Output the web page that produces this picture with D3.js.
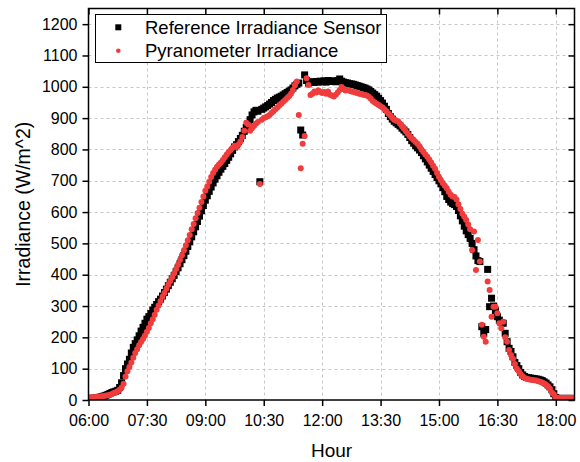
<!DOCTYPE html>
<html>
<head>
<meta charset="utf-8">
<script src="https://cdn.jsdelivr.net/npm/d3@7/dist/d3.min.js"></script>
<style>
  html, body { margin: 0; padding: 0; background: #fff; }
  svg { display: block; }
  text { font-family: "Liberation Sans", Arial, Helvetica, sans-serif; fill: #000; }
</style>
</head>
<body>
<svg id="chart" width="580" height="462"></svg>
<script>
// ---------- DATA ----------
// Sampling grid: one reading every 3 minutes starting at 06:00
const startHour = 6;
const stepMinutes = 3;

// Reference Irradiance Sensor (W/m^2), rows = one hour (20 readings each)
const reference = [
  // 06:00
  5,5,5,6,7,8,9,11,13,15,18,21,24,26,28,31,40,55,78,100,
  // 07:00
  115,130,150,168,180,192,205,220,232,245,258,266,276,287,296,305,314,322,332,343,
  // 08:00
  354,365,376,387,398,410,422,435,448,461,475,490,505,521,537,553,570,587,604,621,
  // 09:00
  638,652,666,680,693,705,716,727,737,746,755,765,775,786,797,808,815,825,835,845,
  // 10:00
  858,870,882,895,910,920,925,922,697,928,932,936,940,945,950,956,960,964,967,970,
  // 11:00
  974,978,982,986,990,996,1003,1008,1012,862,846,1038,1020,1012,1015,1016,1014,1017,1015,1018,
  // 12:00
  1016,1019,1015,1020,1018,1017,1019,1016,1020,1025,1018,1015,1013,1012,1010,1009,1008,1006,1004,1002,
  // 13:00
  1000,998,996,993,990,985,980,975,970,963,956,948,938,928,915,905,897,890,885,880,
  // 14:00
  875,868,862,856,848,838,828,820,812,805,798,790,780,770,760,750,740,730,720,710,
  // 15:00
  700,690,678,665,650,640,632,627,624,618,605,588,572,555,540,528,516,500,480,460,
  // 16:00
  445,442,234,213,225,417,298,325,300,285,266,255,247,245,213,186,165,155,138,120,
  // 17:00
  110,100,88,80,75,72,71,70,69,68,67,66,64,62,58,54,48,42,33,20,
  // 18:00
  8,5,5,5,5,5,5,5,5,5
];

// Pyranometer Irradiance (W/m^2)
const pyranometer = [
  // 06:00
  8,8,9,9,10,10,11,12,13,14,15,17,19,22,25,28,33,40,52,75,
  // 07:00
  92,105,120,135,150,162,175,185,195,205,218,230,245,258,272,288,302,316,330,342,
  // 08:00
  355,368,380,392,405,418,432,447,462,478,494,510,527,545,562,580,597,614,632,650,
  // 09:00
  668,682,697,712,725,735,745,752,758,766,775,784,792,798,805,812,808,815,825,840,
  // 10:00
  860,885,880,860,868,875,882,888,690,895,900,903,906,910,916,922,928,934,940,946,
  // 11:00
  952,958,964,970,978,990,1005,1017,910,740,818,843,1027,1006,974,978,985,982,988,984,
  // 12:00
  980,983,978,985,975,972,969,975,982,990,999,992,988,990,987,985,984,982,980,978,
  // 13:00
  977,975,974,972,968,962,955,950,946,942,938,934,928,922,915,908,900,895,892,890,
  // 14:00
  882,874,866,858,850,842,836,830,824,818,810,800,792,784,777,768,758,748,738,725,
  // 15:00
  712,702,692,684,676,665,655,650,648,640,625,610,595,585,575,560,545,479,538,415,
  // 16:00
  511,442,240,202,186,378,351,266,298,298,277,245,229,250,200,186,160,144,132,115,
  // 17:00
  100,92,82,75,70,68,66,65,64,63,62,60,58,56,53,49,44,37,24,18,
  // 18:00
  8,7,7,7,7,7,7,7,7,7
];

const xTickHours = [6, 7.5, 9, 10.5, 12, 13.5, 15, 16.5, 18];
const yTickValues = [0,100,200,300,400,500,600,700,800,900,1000,1100,1200];
const seriesNames = ["Reference Irradiance Sensor", "Pyranometer Irradiance"];
const xTitle = "Hour";
const yTitle = "Irradiance (W/m^2)";

// ---------- LAYOUT ----------
const m = { left: 88.5, right: 574.5, top: 8.5, bottom: 400 };
const xDomain = [6, 18.48];
const yDomain = [0, 1250];

const svg = d3.select("#chart");
const x = d3.scaleLinear().domain(xDomain).range([m.left, m.right]);
const y = d3.scaleLinear().domain(yDomain).range([m.bottom, m.top]);

const hourOf = i => startHour + i * stepMinutes / 60;
const refData = reference.map((v, i) => ({ h: hourOf(i), v }));
const pyrData = pyranometer.map((v, i) => ({ h: hourOf(i), v }));

const fmtHour = h => {
  const hh = Math.floor(h), mm = Math.round((h - hh) * 60);
  return String(hh).padStart(2, "0") + ":" + String(mm).padStart(2, "0");
};

// Gridlines
const grid = svg.append("g").attr("stroke", "#c8c8c8").attr("stroke-width", 1)
  .attr("stroke-dasharray", "3,3").attr("fill", "none");
grid.selectAll("line.gx").data(xTickHours.filter(h => h > xDomain[0])).enter().append("line")
  .attr("x1", d => Math.round(x(d)) + 0.5).attr("x2", d => Math.round(x(d)) + 0.5)
  .attr("y1", m.top).attr("y2", m.bottom);
grid.selectAll("line.gy").data(yTickValues.filter(v => v > 0)).enter().append("line")
  .attr("y1", d => Math.round(y(d)) + 0.5).attr("y2", d => Math.round(y(d)) + 0.5)
  .attr("x1", m.left).attr("x2", m.right);

// Data: clip to plot area
svg.append("clipPath").attr("id", "clip").append("rect")
  .attr("x", m.left).attr("y", m.top).attr("width", m.right - m.left).attr("height", m.bottom - m.top);

const plot = svg.append("g").attr("clip-path", "url(#clip)");
const sq = 7;
plot.append("g").selectAll("rect").data(refData).enter().append("rect")
  .attr("x", d => x(d.h) - sq / 2).attr("y", d => y(d.v) - sq / 2)
  .attr("width", sq).attr("height", sq).attr("fill", "#000");
plot.append("g").selectAll("circle").data(pyrData).enter().append("circle")
  .attr("cx", d => x(d.h)).attr("cy", d => y(d.v)).attr("r", 3)
  .attr("fill", "#f03c3c");

// Axes
const fontSize = 16;
const gB = svg.append("g").attr("transform", `translate(0,${m.bottom})`)
  .call(d3.axisBottom(x).tickValues(xTickHours).tickFormat(fmtHour).tickSize(6).tickPadding(9));
const gL = svg.append("g").attr("transform", `translate(${m.left},0)`)
  .call(d3.axisLeft(y).tickValues(yTickValues).tickFormat(d3.format("d")).tickSize(6).tickPadding(5));
const gT = svg.append("g").attr("transform", `translate(0,${m.top})`)
  .call(d3.axisBottom(x).tickValues(xTickHours).tickFormat("").tickSize(6));
const gR = svg.append("g").attr("transform", `translate(${m.right},0)`)
  .call(d3.axisLeft(y).tickValues(yTickValues).tickFormat("").tickSize(6));
[gB, gL, gT, gR].forEach(g => {
  g.select(".domain").remove();
  g.selectAll(".tick line").attr("stroke", "#000").attr("stroke-width", 1.5);
  g.selectAll(".tick text").attr("font-size", fontSize)
    .attr("font-family", '"Liberation Sans", Arial, sans-serif').attr("fill", "#000");
});

// Frame
svg.append("rect").attr("x", m.left).attr("y", m.top)
  .attr("width", m.right - m.left).attr("height", m.bottom - m.top)
  .attr("fill", "none").attr("stroke", "#000").attr("stroke-width", 1.5);

// Titles
svg.append("text").attr("x", (m.left + m.right) / 2).attr("y", 457)
  .attr("text-anchor", "middle").attr("font-size", 19).text(xTitle);
svg.append("text").attr("transform", `translate(30,${(m.top + m.bottom) / 2}) rotate(-90)`)
  .attr("text-anchor", "middle").attr("font-size", 19.5).text(yTitle);

// Legend
const lg = svg.append("g");
lg.append("rect").attr("x", 95.5).attr("y", 14.5).attr("width", 291).attr("height", 48)
  .attr("fill", "#fff").attr("stroke", "#000").attr("stroke-width", 1);
lg.append("rect").attr("x", 118.3 - 3).attr("y", 27.3 - 3).attr("width", 6).attr("height", 6).attr("fill", "#000");
lg.append("circle").attr("cx", 118.3).attr("cy", 50.7).attr("r", 2.3).attr("fill", "#f03c3c");
lg.append("text").attr("x", 145).attr("y", 33.8).attr("font-size", 18.5).text(seriesNames[0]);
lg.append("text").attr("x", 145).attr("y", 57.2).attr("font-size", 18.5).text(seriesNames[1]);
</script>
</body>
</html>
